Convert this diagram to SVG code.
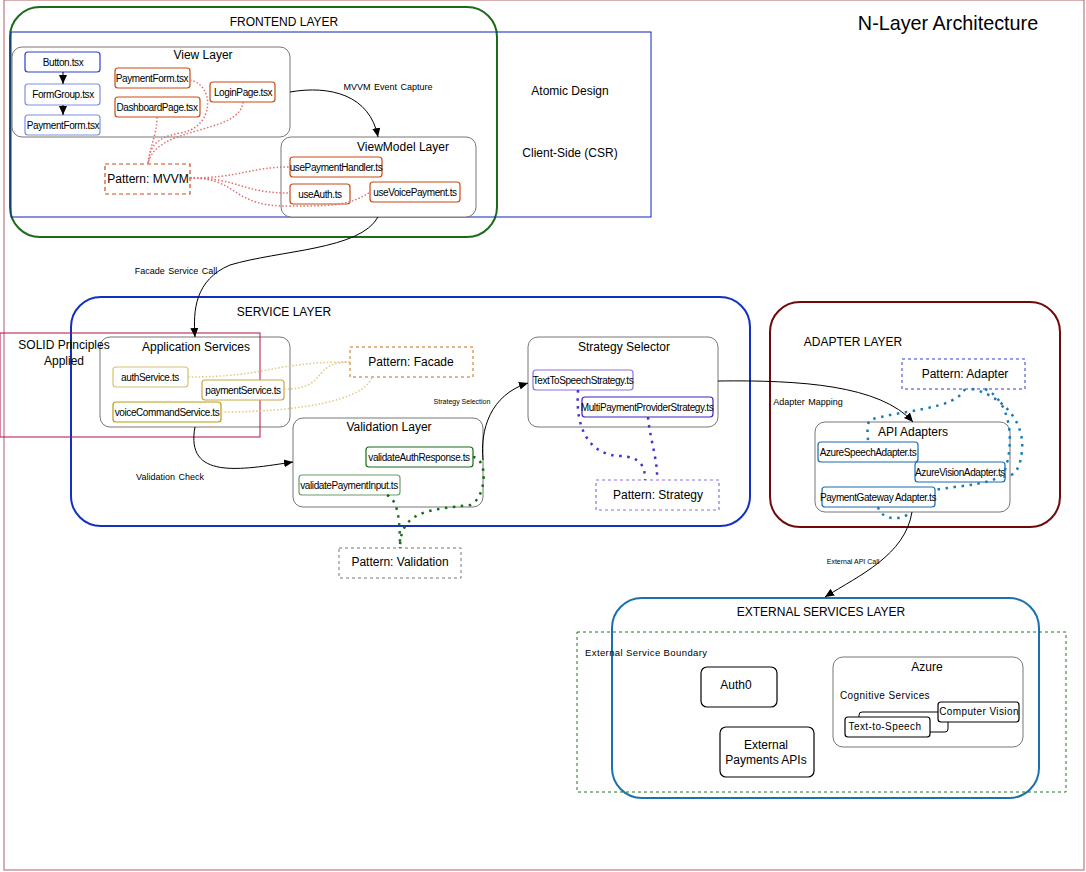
<svg xmlns="http://www.w3.org/2000/svg" width="1086" height="872" viewBox="0 0 1086 872">
<defs>
<marker id="ah" markerWidth="10" markerHeight="10" refX="9" refY="5" orient="auto" markerUnits="userSpaceOnUse">
<path d="M0,1 L9,5 L0,9 Z" fill="#000"/>
</marker>
<style>
text{font-family:"Liberation Sans",Arial,sans-serif;fill:#000}
.t12{font-size:12px;text-anchor:middle}
.t9{font-size:10px;text-anchor:middle;letter-spacing:-0.4px}
.lbl{font-size:9px;text-anchor:middle;word-spacing:1px}
.sp{font-size:10px;letter-spacing:0.4px}
.box{fill:#fff;stroke:#777;stroke-width:1}
.file{fill:#fff;stroke-width:1.2}
.arrow{fill:none;stroke:#000;stroke-width:1}
.dot{fill:none;stroke-width:1.5;stroke-dasharray:1.5 2}
.bdot{fill:none;stroke-width:2.5;stroke-dasharray:2.5 5.5}
</style>
</defs>
<rect width="1086" height="872" fill="#fff"/>
<rect x="4" y="0" width="1080" height="870" fill="none" stroke="#b97a7f" stroke-width="1.2"/>
<text x="948" y="30" style="font-size:19.8px;text-anchor:middle">N-Layer Architecture</text>

<g id="frontend-layer">
<rect x="10" y="7" width="487" height="230" rx="30" fill="none" stroke="#1a6b1a" stroke-width="2"/>
<text class="t12" x="284" y="26">FRONTEND LAYER</text>
</g>
<g id="atomic-design">
<rect x="11" y="32" width="640" height="185" fill="none" stroke="#0a25c0" stroke-width="1"/>
<text class="t12" x="570" y="95">Atomic Design</text>
<text class="t12" x="570" y="157">Client-Side (CSR)</text>
</g>
<g id="view-layer">
<rect class="box" x="12" y="47" width="278" height="90" rx="10"/>
<text class="t12" x="203" y="59">View Layer</text>
</g>
<g id="button"><rect class="file" x="25" y="52" width="75" height="20" rx="3" stroke="#2d3ed0"/><text class="t9" x="63" y="66">Button.tsx</text></g>
<g id="formgroup"><rect class="file" x="25" y="84" width="75" height="21" rx="3" stroke="#7f8fe0"/><text class="t9" x="63" y="98">FormGroup.tsx</text></g>
<g id="paymentform-atom"><rect class="file" x="25" y="115" width="75" height="20" rx="3" stroke="#7f8fe0"/><text class="t9" x="63" y="129">PaymentForm.tsx</text></g>
<g id="paymentform"><rect class="file" x="115" y="68" width="75" height="20" rx="3" stroke="#c84a14"/><text class="t9" x="152" y="82">PaymentForm.tsx</text></g>
<g id="dashboard"><rect class="file" x="115" y="97" width="85" height="20" rx="3" stroke="#c84a14"/><text class="t9" x="157" y="111">DashboardPage.tsx</text></g>
<g id="loginpage"><rect class="file" x="210" y="82" width="65" height="20" rx="3" stroke="#c84a14"/><text class="t9" x="243" y="96">LoginPage.tsx</text></g>
<g id="pattern-mvvm"><rect x="105" y="164" width="85" height="30" fill="#fff" stroke="#d04a20" stroke-width="1.2" stroke-dasharray="4 3"/><text class="t12" x="148" y="183">Pattern: MVVM</text></g>

<g id="viewmodel-layer">
<rect class="box" x="281" y="137" width="195" height="80" rx="10"/>
<text class="t12" x="403" y="151">ViewModel Layer</text>
</g>
<g id="usepaymenthandler"><rect class="file" x="290" y="157" width="92" height="20" rx="3" stroke="#c84a14"/><text class="t9" x="336" y="171">usePaymentHandler.ts</text></g>
<g id="useauth"><rect class="file" x="290" y="184" width="60" height="20" rx="3" stroke="#c84a14"/><text class="t9" x="320" y="198">useAuth.ts</text></g>
<g id="usevoicepayment"><rect class="file" x="370" y="182" width="90" height="20" rx="3" stroke="#c84a14"/><text class="t9" x="415" y="196">useVoicePayment.ts</text></g>

<g id="service-layer">
<rect x="71" y="297" width="679" height="229" rx="30" fill="none" stroke="#1530c0" stroke-width="2"/>
<text class="t12" x="284" y="316">SERVICE LAYER</text>
</g>
<g id="application-services">
<rect class="box" x="100" y="337" width="190" height="90" rx="10"/>
<text class="t12" x="196" y="351">Application Services</text>
</g>
<g id="solid">
<rect x="0" y="333" width="260" height="104" fill="none" stroke="#b0104a" stroke-width="1"/>
<text class="t12" x="64" y="349">SOLID Principles</text>
<text class="t12" x="64" y="365">Applied</text>
</g>
<g id="authservice"><rect class="file" x="113" y="367" width="75" height="20" rx="3" stroke="#d8c070"/><text class="t9" x="150" y="381">authService.ts</text></g>
<g id="paymentservice"><rect class="file" x="202" y="380" width="82" height="20" rx="3" stroke="#c8a840"/><text class="t9" x="243" y="394">paymentService.ts</text></g>
<g id="voicecommandservice"><rect class="file" x="113" y="402" width="108" height="20" rx="3" stroke="#b89a10"/><text class="t9" x="167" y="416">voiceCommandService.ts</text></g>
<g id="pattern-facade"><rect x="350" y="347" width="123" height="30" fill="#fff" stroke="#c07010" stroke-width="1" stroke-dasharray="3 3"/><text class="t12" x="411" y="366">Pattern: Facade</text></g>

<g id="validation-layer">
<rect class="box" x="293" y="418" width="190" height="89" rx="10"/>
<text class="t12" x="389" y="431">Validation Layer</text>
</g>
<g id="validateauthresponse"><rect class="file" x="366" y="447" width="107" height="20" rx="3" stroke="#1a6b1a"/><text class="t9" x="419" y="461">validateAuthResponse.ts</text></g>
<g id="validatepaymentinput"><rect class="file" x="299" y="475" width="101" height="20" rx="3" stroke="#6a9e6a"/><text class="t9" x="349" y="489">validatePaymentInput.ts</text></g>
<g id="pattern-validation"><rect x="339" y="548" width="122" height="30" fill="#fff" stroke="#777" stroke-width="1" stroke-dasharray="3 3"/><text class="t12" x="400" y="566">Pattern: Validation</text></g>

<g id="strategy-selector">
<rect class="box" x="528" y="337" width="190" height="90" rx="10"/>
<text class="t12" x="624" y="351">Strategy Selector</text>
</g>
<g id="tts-strategy"><rect class="file" x="533" y="370" width="100" height="20" rx="3" stroke="#9070e0"/><text class="t9" x="583" y="384">TextToSpeechStrategy.ts</text></g>
<g id="multipayment-strategy"><rect class="file" x="582" y="397" width="131" height="20" rx="3" stroke="#4020c0"/><text class="t9" x="647" y="411">MultiPaymentProviderStrategy.ts</text></g>
<g id="pattern-strategy"><rect x="596" y="480" width="123" height="30" fill="#fff" stroke="#9070e0" stroke-width="1.2" stroke-dasharray="3 3"/><text class="t12" x="658" y="499">Pattern: Strategy</text></g>

<g id="adapter-layer">
<rect x="770" y="302" width="290" height="225" rx="30" fill="none" stroke="#700a0a" stroke-width="2"/>
<text class="t12" x="853" y="346">ADAPTER LAYER</text>
</g>
<g id="pattern-adapter"><rect x="902" y="359" width="123" height="30" fill="#fff" stroke="#7080e0" stroke-width="1.5" stroke-dasharray="3 3"/><text class="t12" x="965" y="378">Pattern: Adapter</text></g>
<g id="api-adapters">
<rect class="box" x="815" y="422" width="195" height="90" rx="10" stroke="#999"/>
<text class="t12" x="913" y="436">API Adapters</text>
</g>
<g id="azurespeech"><rect class="file" x="818" y="442" width="100" height="20" rx="3" stroke="#1a6ab0"/><text class="t9" x="868" y="456">AzureSpeechAdapter.ts</text></g>
<g id="azurevision"><rect class="file" x="915" y="462" width="90" height="20" rx="3" stroke="#1a6ab0"/><text class="t9" x="960" y="476">AzureVisionAdapter.ts</text></g>
<g id="paymentgateway"><rect class="file" x="822" y="487" width="113" height="20" rx="3" stroke="#1a6ab0"/><text class="t9" x="878" y="501">PaymentGateway Adapter.ts</text></g>

<g id="external-layer">
<rect x="612" y="598" width="427" height="200" rx="30" fill="none" stroke="#1a70b0" stroke-width="2"/>
<text class="t12" x="821" y="616">EXTERNAL SERVICES LAYER</text>
</g>
<g id="external-boundary">
<rect x="577" y="632" width="489" height="160" fill="none" stroke="#1a7a1a" stroke-width="1" stroke-dasharray="3 3"/>
<text class="sp" x="585" y="656" style="font-size:9.5px">External Service Boundary</text>
</g>
<g id="auth0"><rect class="file" x="701" y="667" width="76" height="40" rx="6" stroke="#000"/><text class="t12" x="736" y="689">Auth0</text></g>
<g id="external-payments"><rect class="file" x="720" y="727" width="94" height="50" rx="6" stroke="#000"/><text class="t12" x="766" y="749">External</text><text class="t12" x="766" y="764">Payments APIs</text></g>
<g id="azure">
<rect class="box" x="833" y="657" width="190" height="90" rx="10" stroke="#999"/>
<text class="t12" x="927" y="671">Azure</text>
<text class="sp" x="840" y="699">Cognitive Services</text>
<rect x="859" y="712" width="89" height="20" rx="3" fill="#fff" stroke="#000"/>
</g>
<g id="computer-vision"><rect class="file" x="938" y="702" width="81" height="20" rx="3" stroke="#000"/><text class="sp" x="979" y="715" style="text-anchor:middle">Computer Vision</text></g>
<g id="tts"><rect class="file" x="845" y="717" width="85" height="20" rx="3" stroke="#000"/><text class="sp" x="885" y="730" style="text-anchor:middle">Text-to-Speech</text></g>

<g id="connectors">
<line class="arrow" x1="63" y1="72" x2="63" y2="84" marker-end="url(#ah)"/>
<line class="arrow" x1="63" y1="105" x2="63" y2="115" marker-end="url(#ah)"/>
<path class="arrow" d="M290,92 C330,85 370,95 378,137" marker-end="url(#ah)"/>
<text class="lbl" x="388" y="90">MVVM Event Capture</text>
<path class="arrow" d="M378,217 C360,250 280,250 230,265 C195,280 193,310 195,337" marker-end="url(#ah)"/>
<text class="lbl" x="176" y="274">Facade Service Call</text>
<path class="arrow" d="M195,427 C185,480 240,470 293,462" marker-end="url(#ah)"/>
<text class="lbl" x="170" y="480">Validation Check</text>
<path class="arrow" d="M483,460 C480,430 490,395 528,383" marker-end="url(#ah)"/>
<text x="462" y="404" style="font-size:7px;text-anchor:middle">Strategy Selection</text>
<path class="arrow" d="M718,381 C800,380 880,385 913,422" marker-end="url(#ah)"/>
<text class="lbl" x="808" y="405">Adapter Mapping</text>
<path class="arrow" d="M912,512 C905,555 860,575 825,597" marker-end="url(#ah)"/>
<text x="853" y="564" style="font-size:7px;text-anchor:middle">External API Call</text>

<g stroke="#e07070">
<path class="dot" d="M190,80 C215,85 215,128 180,133 C152,138 150,150 148,164"/>
<path class="dot" d="M157,117 C157,135 150,145 148,164"/>
<path class="dot" d="M243,102 C240,135 155,125 148,164"/>
<path class="dot" d="M190,178 C240,178 250,167 290,167"/>
<path class="dot" d="M190,178 C240,178 240,193 290,193"/>
<path class="dot" d="M190,178 C240,178 230,207 290,206 C330,206 350,206 370,192"/>
</g>
<g stroke="#e0c880">
<path class="dot" d="M188,377 C270,377 270,362 350,362"/>
<path class="dot" d="M284,389 C330,389 310,362 350,362"/>
<path class="dot" d="M221,412 C300,412 365,400 372,377"/>
</g>
<g stroke="#1a6b1a">
<path class="bdot" d="M473,457 C490,460 485,500 470,505 C430,510 400,510 400,548"/>
<path class="bdot" d="M387,495 C398,500 400,520 400,548"/>
</g>
<g stroke="#4a30d0">
<path class="bdot" d="M578,390 C575,430 590,455 620,456 C640,457 645,465 645,480"/>
<path class="bdot" d="M648,417 C650,440 658,460 657,480"/>
</g>
<g stroke="#1a7ab5">
<path class="bdot" d="M965,389 C955,410 900,410 870,420 C866,425 868,435 868,442"/>
<path class="bdot" d="M972,389 C1000,395 1025,420 1022,450 C1020,475 1010,478 1000,476"/>
<path class="bdot" d="M985,389 C1010,400 1015,440 1005,470 C1000,485 960,485 935,490"/>
<path class="bdot" d="M878,507 C882,522 905,520 910,512"/>
</g>
</g>
</svg>
